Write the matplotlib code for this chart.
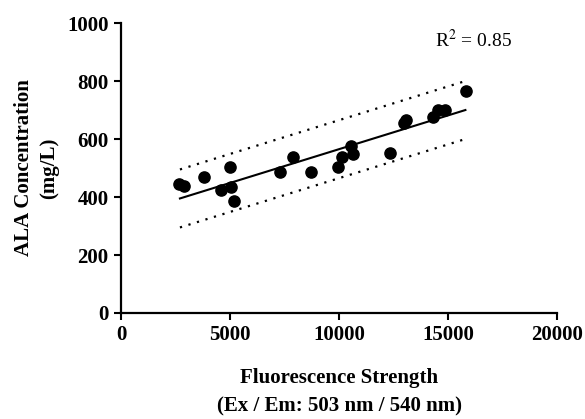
import matplotlib
matplotlib.use("Agg")
import matplotlib.pyplot as plt
import numpy as np

# measured points (fluorescence, ALA mg/L)
fluor = [2670, 2900, 3790, 4590, 5000, 5050, 5200, 7270, 7880, 8730,
         9970, 10130, 10570, 10640, 12360, 13060, 13000, 14320, 14550, 14860, 15810]
ala = [445, 438, 470, 424, 505, 436, 386, 487, 537, 487,
       505, 537, 577, 548, 551, 666, 655, 677, 700, 700, 767]

# fitted line and 95% band
fit_x = [2700, 15800]
fit_y = [395, 700]
band = 100

x_ticks = [0, 5000, 10000, 15000, 20000]
y_ticks = [0, 200, 400, 600, 800, 1000]

plt.rcParams['font.family'] = ['Liberation Serif', 'DejaVu Serif']
plt.rcParams['mathtext.fontset'] = 'stix'

fig = plt.figure(figsize=(5.85, 4.19), dpi=100)
ax = fig.add_axes([0.207, 0.253, 0.745, 0.692])

ax.scatter(fluor, ala, s=65, color='black', zorder=3)
ax.plot(fit_x, fit_y, color='black', lw=1.5)
ax.plot(fit_x, [v + band for v in fit_y], color='black', lw=1.6, linestyle=(0, (1, 3)))
ax.plot(fit_x, [v - band for v in fit_y], color='black', lw=1.6, linestyle=(0, (1, 3)))

ax.set_xlim(0, 20000)
ax.set_ylim(0, 1000)
ax.set_xticks(x_ticks)
ax.set_yticks(y_ticks)
ax.tick_params(width=1.5, length=5, labelsize=15, pad=4)
for lab in ax.get_xticklabels() + ax.get_yticklabels():
    lab.set_fontweight('bold')

for s in ['top', 'right']:
    ax.spines[s].set_visible(False)
for s in ['left', 'bottom']:
    ax.spines[s].set_linewidth(1.6)

ax.set_xlabel('Fluorescence Strength\n(Ex / Em: 503 nm / 540 nm)', fontsize=15,
              fontweight='bold', labelpad=16, linespacing=1.6)
ax.set_ylabel('ALA Concentration\n(mg/L)', fontsize=15, fontweight='bold',
              labelpad=6, linespacing=1.35)

ax.text(14400, 940, r'R$^{2}$ = 0.85', fontsize=14, va='center', ha='left')

fig.savefig('out.png', dpi=100)
